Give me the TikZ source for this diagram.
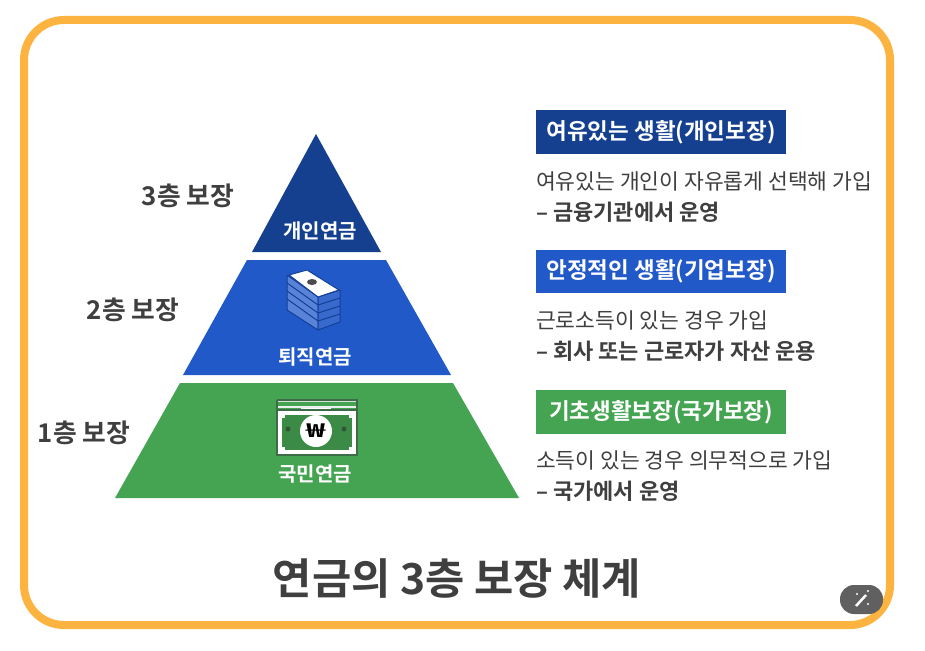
\documentclass[tikz,border=0pt]{standalone}
\usepackage{fontspec}
\setmainfont{Noto Sans CJK KR}[BoldFont={Noto Sans CJK KR Bold}]
\definecolor{frameor}{HTML}{FDB33F}
\definecolor{navy}{HTML}{14408F}
\definecolor{royal}{HTML}{2259C9}
\definecolor{leaf}{HTML}{45A452}
\definecolor{ink}{HTML}{3F3F3F}
\definecolor{darkleaf}{HTML}{3E6B48}
\definecolor{darkblue}{HTML}{123F99}
\definecolor{chip}{HTML}{606060}
\tikzset{
  x=1pt,y=-1pt,
  tier/.style={draw=none,text=ink,font=\fontsize{25.8}{26}\selectfont\bfseries,inner sep=0pt,anchor=center},
  inlabel/.style={text=white,font=\fontsize{20}{20}\selectfont\bfseries,inner sep=0pt,anchor=center},
  banner/.style={text=white,font=\fontsize{22.5}{22}\selectfont\bfseries,inner sep=0pt,anchor=center},
  body/.style={text=ink,font=\fontsize{21.5}{22}\selectfont,inner sep=0pt,anchor=west},
  bodyb/.style={text=ink,font=\fontsize{22}{22}\selectfont\bfseries,inner sep=0pt,anchor=west},
}
\begin{document}
\begin{tikzpicture}
\useasboundingbox (0,0) rectangle (925,650);
\fill[white] (0,0) rectangle (925,650);
\draw[frameor,line width=8pt,fill=white,rounded corners=40pt] (24,20) rectangle (890,625);
% pyramid
\fill[navy] (316,134) -- (381,252) -- (252,252) -- cycle;
\fill[royal] (247,260) -- (386,260) -- (451,375) -- (183,375) -- cycle;
\fill[leaf] (180,383) -- (453,383) -- (519,498) -- (115,498) -- cycle;
% money stack icon
\fill[royal!75!white,draw=darkblue,line width=1pt,line join=round]
  (287,275) -- (318,297) -- (318,330) -- (287,310) -- cycle;
\fill[royal!90!white,draw=darkblue,line width=1pt,line join=round]
  (318,297) -- (340,290) -- (340,322) -- (318,330) -- cycle;
\foreach \dy in {8,16,24}{
  \draw[darkblue,line width=1pt,line join=round]
    (287,{275+\dy}) -- (318,{297+\dy}) -- (340,{290+\dy});
}
\fill[white,draw=darkblue,line width=1pt,line join=round] (289,275) -- (307,270) -- (339,290) -- (318,297) -- cycle;
\fill[black!70] (312,282) ellipse (5pt and 3pt);
% won note icon
\draw[white!80!darkleaf,line width=1.5pt,fill=leaf] (277.5,401) rectangle (356.5,420);
\fill[white] (301,408) arc[start angle=180,end angle=0,radius=15] -- cycle;
\draw[white!90!darkleaf,line width=1.5pt] (278,407) -- (356,407);
\draw[darkleaf,line width=1.2pt] (277,400) -- (357,400) -- (357,410);
\draw[darkleaf,line width=1.2pt] (277,410) -- (277,400);
\fill[white] (277,410) rectangle (357,455);
\draw[darkleaf,line width=1.2pt] (277,410) rectangle (357,455);
\fill[leaf!85!black] (282,415) rectangle (352,450);
\foreach \px/\py in {278/411,349/411,278/447,349/447}{\fill[white] (\px,\py) rectangle +(7,7);}
\fill[white] (316,431) circle (16pt);
\fill[darkleaf!80!black] (288,429) circle (2.5pt);
\fill[darkleaf!80!black] (344,429) circle (2.5pt);
\node[inner sep=0pt,text=black,font=\fontsize{19}{19}\selectfont\bfseries,xscale=1.7] (wonmark) at (316,431) {₩};
% labels in pyramid
\node[inlabel] (p3) at (320,231) {개인연금};
\node[inlabel] (p2) at (315,357) {퇴직연금};
\node[inlabel] (p1) at (315,474) {국민연금};
% tier labels
\node[tier] (t3) at (188,196) {3층 보장};
\node[tier] (t2) at (133,310) {2층 보장};
\node[tier] (t1) at (84,433) {1층 보장};
% right column
\fill[navy] (536,110) rectangle (786,154);
\node[banner] (b3) at (661,132) {여유있는 생활(개인보장)};
\node[body] (l3a) at (536,181) {여유있는 개인이 자유롭게 선택해 가입};
\node[bodyb] (l3b) at (536,212) {– 금융기관에서 운영};
\fill[royal] (536,250) rectangle (786,293);
\node[banner] (b2) at (661,271) {안정적인 생활(기업보장)};
\node[body] (l2a) at (536,320) {근로소득이 있는 경우 가입};
\node[bodyb] (l2b) at (536,351) {– 회사 또는 근로자가 자산 운용};
\fill[leaf] (536,390) rectangle (786,434);
\node[banner] (b1) at (661,412) {기초생활보장(국가보장)};
\node[body] (l1a) at (536,460) {소득이 있는 경우 의무적으로 가입};
\node[bodyb] (l1b) at (536,491) {– 국가에서 운영};
% title
\node[text=ink,font=\fontsize{42.7}{43}\selectfont\bfseries,inner sep=0pt] (title) at (457,579) {연금의 3층 보장 체계};
% wand chip
\fill[chip,rounded corners=14pt] (840,585) rectangle (883,614);
\draw[white,line width=2.5pt] (856,606) -- (866,595);
\fill[white] (868,591) circle (1.2pt) (857,594) circle (1.2pt) (868,604) circle (1.2pt);
\end{tikzpicture}
\end{document}
